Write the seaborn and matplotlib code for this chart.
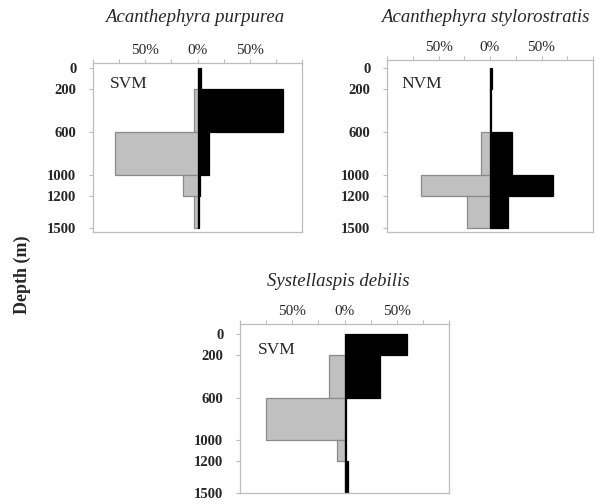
import matplotlib
matplotlib.use("Agg")
import matplotlib.pyplot as plt
import pandas as pd
import seaborn as sns

# Depth layers sampled (m)
depth_edges = [0, 200, 600, 1000, 1200, 1500]
depth_ticks = [0, 200, 600, 1000, 1200, 1500]
pct_ticks = [-100, -75, -50, -25, 0, 25, 50, 75, 100]
pct_labels = ["", "", "50%", "", "0%", "", "50%", "", ""]

species = ["Acanthephyra purpurea", "Acanthephyra stylorostratis", "Systellaspis debilis"]
migration = ["SVM", "NVM", "SVM"]

# Percentage of catch per depth layer: day (left, grey) and night (right, black)
purpurea_day = [0, 3, 79, 14, 3]
purpurea_night = [3, 82, 11, 2, 1.5]
stylorostratis_day = [0, 0, 9, 67, 22]
stylorostratis_night = [2, 0.5, 21, 61, 17]
debilis_day = [0, 15, 75, 7, 0]
debilis_night = [60, 34, 1.5, 1.5, 3]

day_values = [purpurea_day, stylorostratis_day, debilis_day]
night_values = [purpurea_night, stylorostratis_night, debilis_night]

sns.set_theme(style="white")
plt.rcParams["font.family"] = ["Liberation Serif", "DejaVu Serif"]

fig = plt.figure(figsize=(5.99, 5.04), dpi=100)
W, H = 599, 504

# axes boxes in pixels: left, top, right, bottom
boxes = [(93, 63, 302, 232), (387, 60, 593, 232), (240, 324, 449, 493)]
ylims = [(1537, -47), (1537, -75), (1500, -95)]
title_pos = [(195, 17), (485, 17), (338, 282)]
label_pos = [(-84, 150), (-86, 150), (-83, 152)]

spine_col = "#bdbdbd"
mids = [(a + b) / 2 for a, b in zip(depth_edges[:-1], depth_edges[1:])]

for i in range(3):
    l, t, r, b = boxes[i]
    ax = fig.add_axes([l / W, 1 - b / H, (r - l) / W, (b - t) / H])
    df = pd.DataFrame({
        "depth": mids * 2,
        "pct": [-v for v in day_values[i]] + list(night_values[i]),
        "period": ["Day"] * 5 + ["Night"] * 5,
    })
    sns.histplot(data=df[df.period == "Day"], y="depth", weights="pct",
                 bins=depth_edges, color="#c0c0c0", edgecolor="#8a8a8a",
                 linewidth=0.9, alpha=1, ax=ax)
    sns.histplot(data=df[df.period == "Night"], y="depth", weights="pct",
                 bins=depth_edges, color="black", edgecolor="black",
                 linewidth=0.9, alpha=1, ax=ax)
    ax.set_xlim(-100, 100)
    ax.set_ylim(*ylims[i])
    ax.set_xlabel("")
    ax.set_ylabel("")
    ax.xaxis.tick_top()
    ax.set_xticks(pct_ticks)
    ax.set_xticklabels(pct_labels)
    ax.set_yticks(depth_ticks)
    ax.set_yticklabels([str(d) for d in depth_ticks])
    ax.tick_params(axis="x", top=True, bottom=False, length=3, width=0.8,
                   color=spine_col, labelsize=11, pad=1)
    ax.tick_params(axis="y", left=True, length=3, width=0.8,
                   color=spine_col, labelsize=10.5, pad=9)
    for lab in ax.get_yticklabels():
        lab.set_fontweight("bold")
    for sp in ax.spines.values():
        sp.set_color(spine_col)
        sp.set_linewidth(0.9)
    ax.grid(False)
    ax.text(label_pos[i][0], label_pos[i][1], migration[i], fontsize=12.5,
            va="center", ha="left")
    fig.text(title_pos[i][0] / W, 1 - title_pos[i][1] / H, species[i],
             fontsize=13.5, style="italic", ha="center", va="center")

fig.text(22 / W, 1 - 275 / H, "Depth (m)", rotation=90, fontsize=13,
         fontweight="bold", ha="center", va="center")

fig.savefig("out.png", dpi=100)
